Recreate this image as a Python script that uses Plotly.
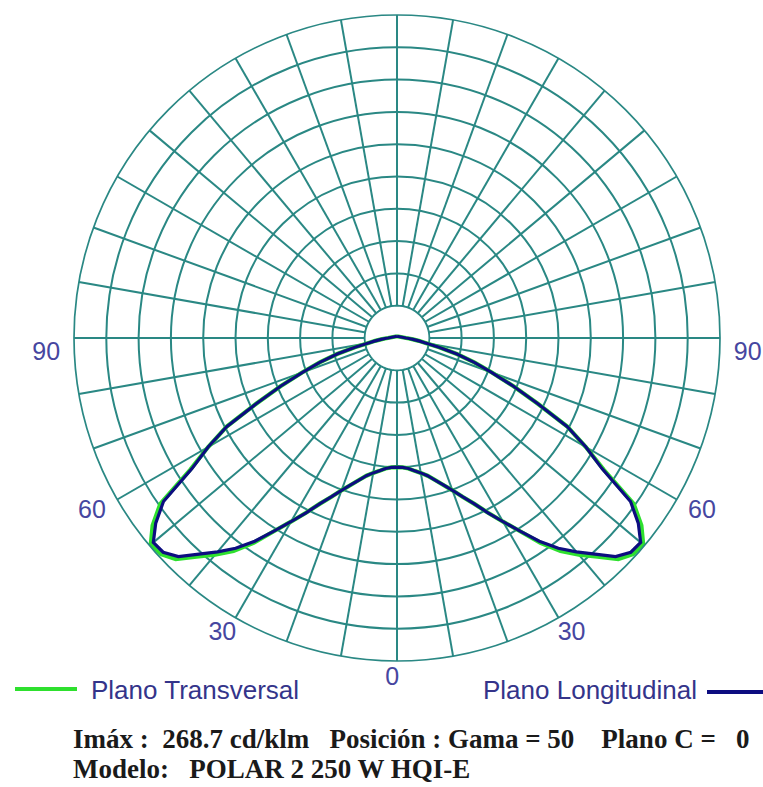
import math
import plotly.graph_objects as go

# ---------------- data (cd/klm) ----------------
gamma = [0, 2.5, 5, 7.5, 10, 12.5, 15, 17.5, 20, 22.5, 25, 27.5, 30, 32.5, 35, 37.5,
         40, 42.5, 45, 47.5, 50, 52.5, 55, 57.5, 60, 62.5, 65, 67.5, 70, 72.5, 75,
         77.5, 80, 82.5, 85, 87.5, 90, 180]
longitudinal = [107.9, 108.3, 109.5, 112.0, 114.5, 117.9, 122.9, 128.8, 135.5, 143.8,
                153.0, 164.7, 177.3, 191.5, 207.4, 221.6, 233.3, 245.0, 258.4, 265.1,
                265.9, 254.2, 238.3, 203.2, 182.3, 160.5, 129.6, 105.4, 84.4, 67.7,
                51.8, 36.0, 24.2, 18.4, 13.4, 10.0, 7.5, 1.5]
transversal = [107.9, 108.3, 109.5, 112.0, 114.5, 117.9, 122.9, 128.8, 135.5, 143.8,
               153.0, 164.7, 177.3, 191.5, 209.0, 224.5, 236.5, 248.0, 261.5, 267.5,
               268.7, 257.5, 241.5, 205.0, 182.3, 160.5, 129.6, 105.4, 84.4, 67.7,
               51.8, 36.0, 24.2, 18.4, 13.4, 10.0, 7.5, 1.5]
angle_tick_values = [90, 60, 30, 0, -30, -60, -90]
angle_tick_text = ["90", "60", "30", "0", "30", "60", "90"]
series_names = ["Plano Transversal", "Plano Longitudinal"]
info_line1 = "Imáx :  268.7 cd/klm   Posición : Gama = 50    Plano C =   0"
info_line2 = "Modelo:   POLAR 2 250 W HQI-E"

# ---------------- style / geometry ----------------
R_MAX = 270.0
N_RINGS = 10
GRID = "#2a8884"
NAVY = "#0d0d80"
GREEN = "#2ee02e"
LABEL_BLUE = "#4646a0"
W, H = 763, 787
CX, CY, RP = 397, 338, 323          # polar centre / radius in page pixels


def closed_path(g, v):
    th = [-a for a in reversed(g)] + g[1:]
    rr = list(reversed(v)) + v[1:]
    return th, rr


fig = go.Figure()

# white centre hole of the grid
hole_theta = list(range(0, 361, 5))
fig.add_trace(go.Scatterpolar(
    theta=hole_theta, r=[R_MAX / N_RINGS] * len(hole_theta), mode="lines",
    fill="toself", fillcolor="white", line=dict(color=GRID, width=1.7),
    hoverinfo="skip", showlegend=False))

th, rr = closed_path(gamma, transversal)
fig.add_trace(go.Scatterpolar(theta=th, r=rr, mode="lines", name=series_names[0],
                              line=dict(color=GREEN, width=4.2), showlegend=False))
th, rr = closed_path(gamma, longitudinal)
fig.add_trace(go.Scatterpolar(theta=th, r=rr, mode="lines", name=series_names[1],
                              line=dict(color=NAVY, width=3.2), showlegend=False))

# angle labels outside the circle, on an invisible cartesian overlay in the same units
lab_shift = {90: (-2.5, 1.087), 60: (0.3, 1.087), 30: (0.6, 1.062), 0: (0.8, 1.056)}
lab_x, lab_y = [], []
for v in angle_tick_values:
    dth, fr = lab_shift[abs(v)]
    t = v + dth if v > 0 else (v - dth if v < 0 else dth)
    rad = math.radians(t)
    lab_x.append(-R_MAX * fr * math.sin(rad))
    lab_y.append(-R_MAX * fr * math.cos(rad))
fig.add_trace(go.Scatter(x=lab_x, y=lab_y, mode="text", text=angle_tick_text,
                         textfont=dict(family="Liberation Sans, Arial", size=25,
                                       color=LABEL_BLUE),
                         xaxis="x", yaxis="y", hoverinfo="skip", showlegend=False,
                         cliponaxis=False))

u = R_MAX / RP
fig.update_layout(
    width=W, height=H, margin=dict(l=0, r=0, t=0, b=0),
    paper_bgcolor="white", plot_bgcolor="rgba(0,0,0,0)",
    xaxis=dict(domain=[0, 1], range=[-CX * u, (W - CX) * u], visible=False, fixedrange=True),
    yaxis=dict(domain=[0, 1], range=[-(H - CY) * u, CY * u], visible=False, fixedrange=True),
    polar=dict(
        domain=dict(x=[(CX - RP) / W, (CX + RP) / W], y=[(H - CY - RP) / H, (H - CY + RP) / H]),
        bgcolor="white",
        radialaxis=dict(range=[0, R_MAX],
                        tickvals=[R_MAX * k / N_RINGS for k in range(1, N_RINGS + 1)],
                        showticklabels=False, ticks="", showline=False,
                        gridcolor=GRID, gridwidth=1.7),
        angularaxis=dict(rotation=270, direction="clockwise", dtick=10,
                         showticklabels=False, ticks="", showline=True,
                         linecolor=GRID, linewidth=1.7,
                         gridcolor=GRID, gridwidth=1.7),
    ),
)

# custom legend
fig.add_shape(type="line", xref="paper", yref="paper",
              x0=15 / W, x1=77 / W, y0=1 - 689 / H, y1=1 - 689 / H,
              line=dict(color=GREEN, width=4))
fig.add_annotation(xref="paper", yref="paper", x=89 / W, y=1 - 690 / H,
                   xanchor="left", yanchor="middle", showarrow=False,
                   text=series_names[0],
                   font=dict(family="Liberation Sans, Arial", size=26, color="#34348a"))
fig.add_shape(type="line", xref="paper", yref="paper",
              x0=707 / W, x1=763 / W, y0=1 - 692 / H, y1=1 - 692 / H,
              line=dict(color=NAVY, width=4))
fig.add_annotation(xref="paper", yref="paper", x=699 / W, y=1 - 690 / H,
                   xanchor="right", yanchor="middle", showarrow=False,
                   text=series_names[1],
                   font=dict(family="Liberation Sans, Arial", size=26, color="#34348a"))

# info text
nb = lambda s: s.replace("  ", "\u00a0\u00a0").replace("\u00a0 ", "\u00a0\u00a0")
fig.add_annotation(xref="paper", yref="paper", x=71 / W, y=1 - 739 / H,
                   xanchor="left", yanchor="middle", showarrow=False,
                   text="<b>" + nb(info_line1) + "</b>",
                   font=dict(family="Liberation Serif, Times New Roman", size=27, color="#1a1a1a"))
fig.add_annotation(xref="paper", yref="paper", x=71 / W, y=1 - 769 / H,
                   xanchor="left", yanchor="middle", showarrow=False,
                   text="<b>" + nb(info_line2) + "</b>",
                   font=dict(family="Liberation Serif, Times New Roman", size=27, color="#1a1a1a"))

fig.write_html("out.html")
